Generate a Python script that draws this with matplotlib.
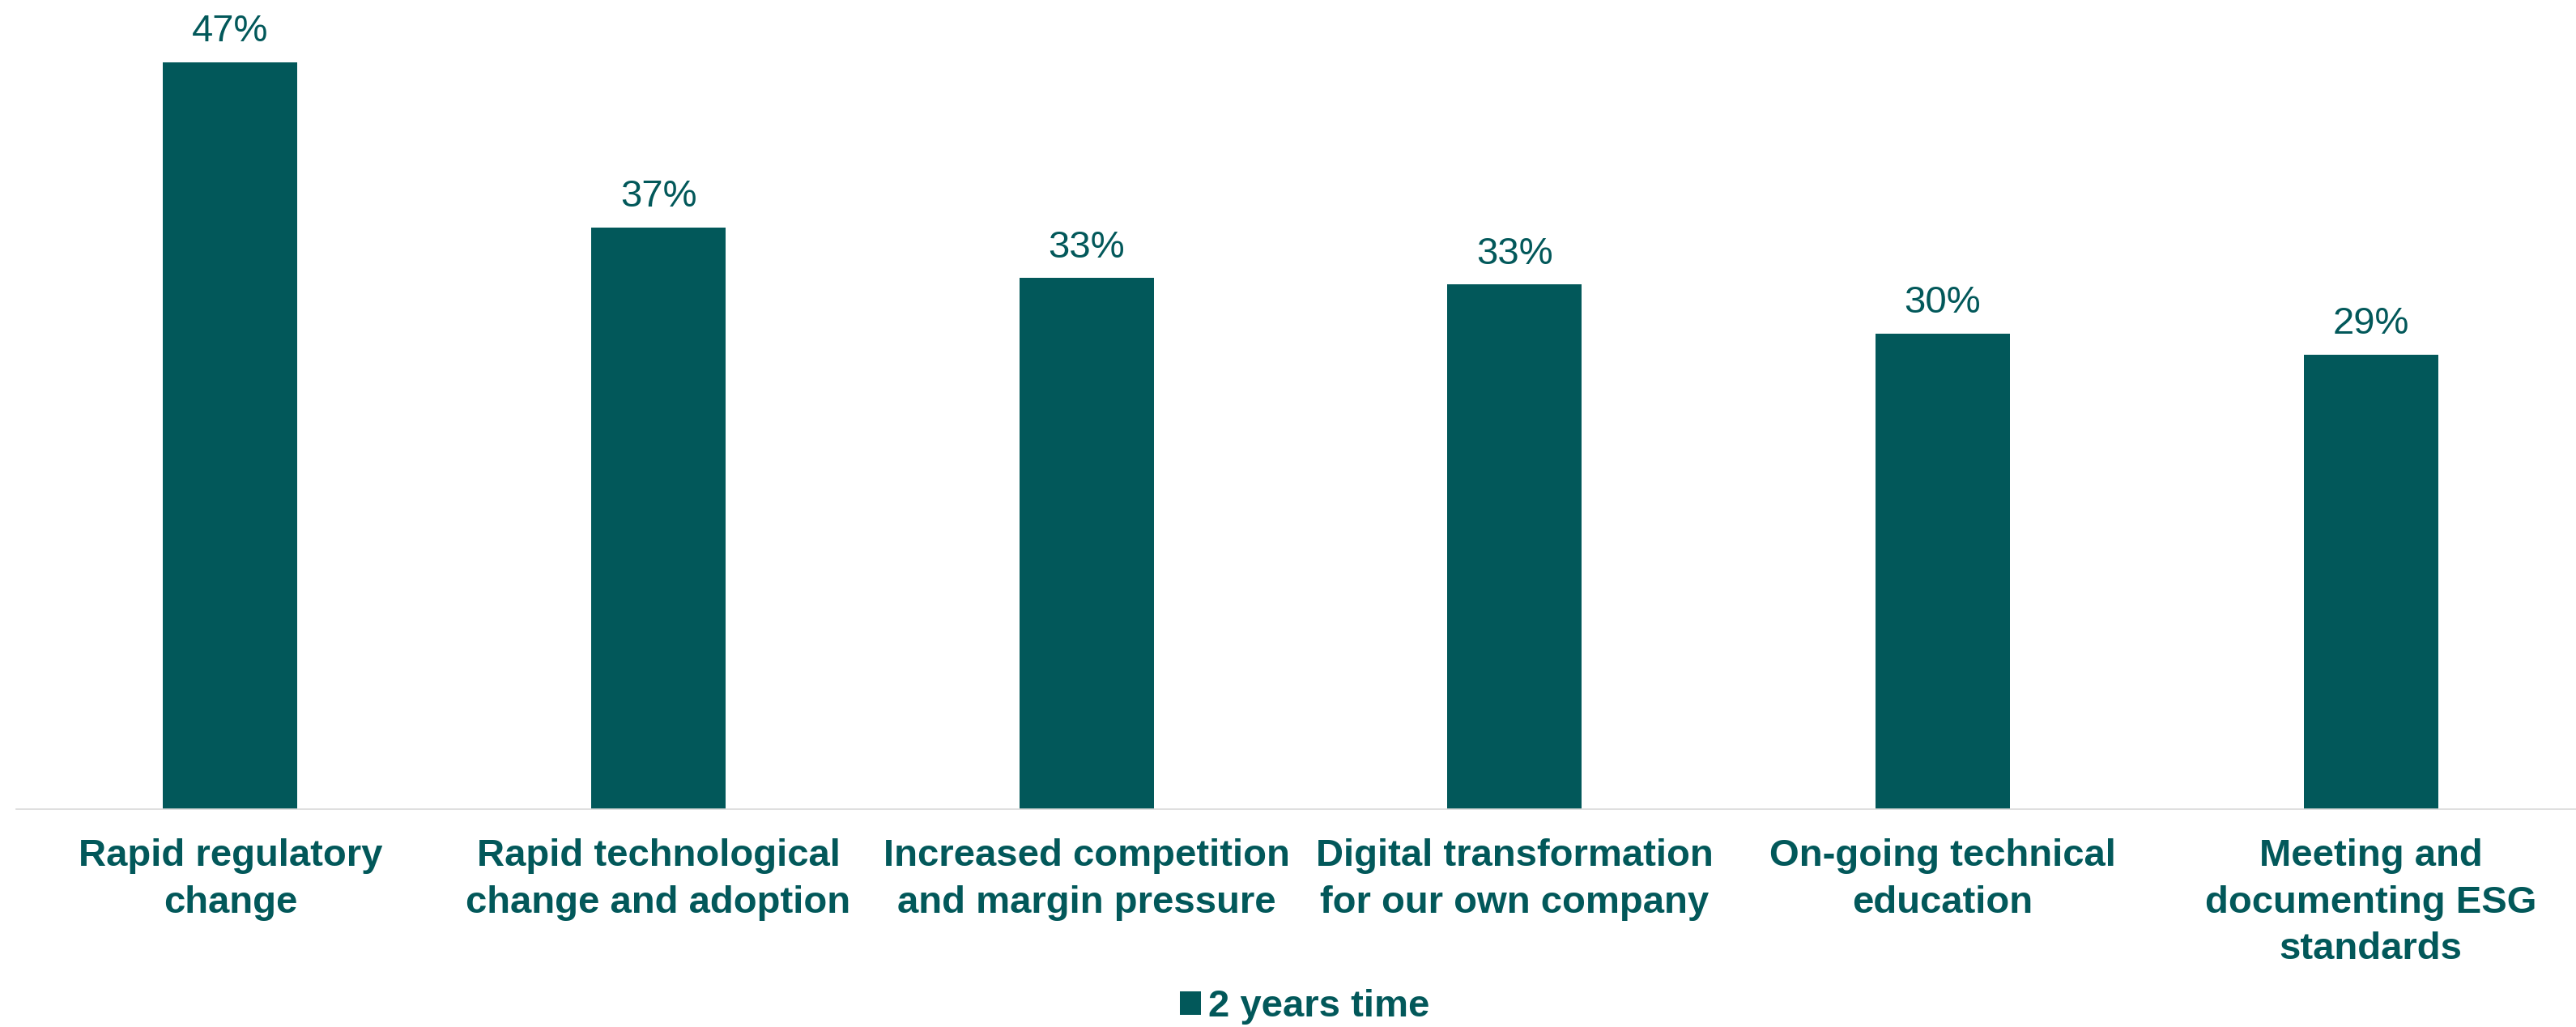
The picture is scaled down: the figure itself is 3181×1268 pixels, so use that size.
import matplotlib
matplotlib.use("Agg")
import matplotlib.pyplot as plt
from matplotlib.patches import Patch

# Share of respondents naming each challenge over a 2-year horizon
categories = [
    "Rapid regulatory\nchange",
    "Rapid technological\nchange and adoption",
    "Increased competition\nand margin pressure",
    "Digital transformation\nfor our own company",
    "On-going technical\neducation",
    "Meeting and\ndocumenting ESG\nstandards",
]
values = [47.0, 36.6, 33.4, 33.0, 29.9, 28.6]
series_name = "2 years time"

teal = "#02585A"
plt.rcParams["font.family"] = ["Liberation Sans", "DejaVu Sans"]

fig = plt.figure(figsize=(31.81, 12.68), dpi=100)
# axes runs a touch past the right edge so the six slots line up
ax = fig.add_axes([20 / 3181, 1 - 999 / 1268, 3172 / 3181, 999 / 1268])

x = range(len(categories))
bars = ax.bar(x, values, width=0.314, color=teal, label=series_name)

# percentage labels above each bar
for rect, v in zip(bars, values):
    ax.annotate(f"{v:.0f}%",
                xy=(rect.get_x() + rect.get_width() / 2, rect.get_height()),
                xytext=(0, 18.5), textcoords="offset points",
                ha="center", va="baseline", fontsize=34, color=teal)

ax.set_xlim(-0.5, len(categories) - 0.5)
ax.set_ylim(0, 50.9)
ax.set_xticks(list(x))
ax.set_xticklabels(categories, fontsize=34, fontweight="bold", color=teal,
                   linespacing=1.40)
ax.tick_params(axis="x", length=0, pad=26)
ax.set_yticks([])

for side in ["top", "right", "left"]:
    ax.spines[side].set_visible(False)
ax.spines["bottom"].set_color("#D9D9D9")
ax.spines["bottom"].set_linewidth(1.2)

handle = Patch(facecolor=teal, edgecolor="none")
fig.legend([handle], [series_name], loc="center",
           bbox_to_anchor=(0.5065, 0.0197), frameon=False,
           handlelength=0.55, handleheight=0.55, handletextpad=0.2,
           prop={"size": 34, "weight": "bold"}, labelcolor=teal)

fig.savefig("out.png", dpi=100, facecolor="white")
